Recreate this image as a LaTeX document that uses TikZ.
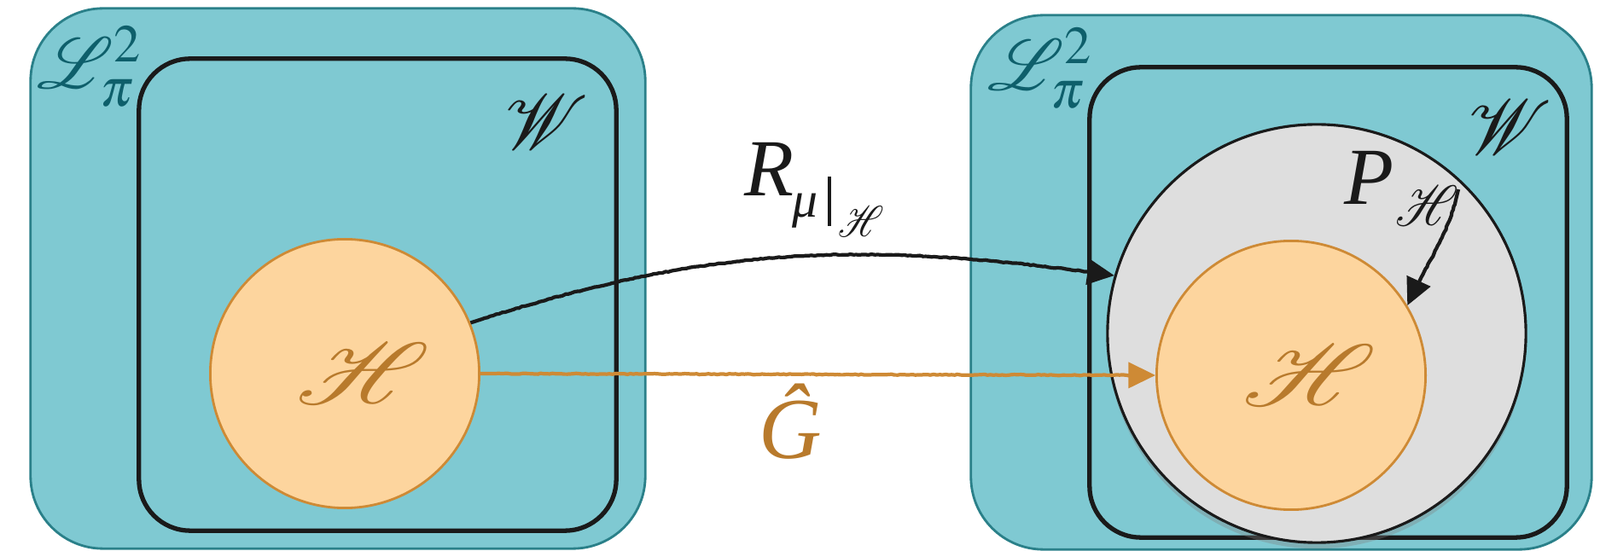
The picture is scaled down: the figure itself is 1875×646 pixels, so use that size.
\documentclass[tikz,border=0pt]{standalone}
\usepackage{mathptmx}
\usepackage{mathrsfs}
\usepackage{fontspec}
\newfontfamily\tms{Liberation Serif}
\usetikzlibrary{arrows.meta,shadows,decorations.pathmorphing}
\definecolor{tealfill}{HTML}{7FC9D2}
\definecolor{tealline}{HTML}{2A8089}
\definecolor{tealtext}{HTML}{0E5F6B}
\definecolor{orfill}{HTML}{FDD59E}
\definecolor{orline}{HTML}{CE8A35}
\definecolor{ortext}{HTML}{B87A2C}
\definecolor{grayfill}{HTML}{DEDEDE}
\definecolor{inkblack}{HTML}{1A1A1A}
\tikzset{
  outerbox/.style={draw=tealline, line width=0.8pt, fill=tealfill, rounded corners=0.85cm, inner sep=0pt},
  wbox/.style={draw=inkblack, line width=1.5pt, rounded corners=0.6cm, inner sep=0pt},
  hcircle/.style={circle, draw=orline, line width=0.8pt, fill=orfill, minimum size=3.15cm, inner sep=0pt, text=ortext},
  pcircle/.style={circle, draw=inkblack, line width=0.9pt, fill=grayfill, minimum size=4.9cm, inner sep=0pt,
    drop shadow={opacity=0.35, shadow xshift=0pt, shadow yshift=-2pt}},
  lbl/.style={inner sep=0pt},
  sketchy/.style={decorate, decoration={random steps, segment length=1pt, amplitude=0.15pt, pre length=4pt, post length=4pt}},
  blackarrow/.style={draw=inkblack, line width=1.2pt, sketchy, -{Triangle[length=9pt,width=8.5pt]}},
  orarrow/.style={draw=orline, line width=1.2pt, sketchy, -{Triangle[length=9pt,width=8.5pt]}},
}
\newcommand{\bigH}{\makebox[0pt][c]{\hspace*{12pt}\scalebox{3.5}[2.9]{$\mathscr{H}$}}}
\begin{document}
\begin{tikzpicture}[x=0.01cm,y=-0.01cm]
\useasboundingbox (0,0) rectangle (1875,646);
% left panel
\node[outerbox, minimum width=7.2cm, minimum height=6.33cm] (L1) at (396,326.5) {};
\node[wbox, minimum width=5.59cm, minimum height=5.53cm] (W1) at (442.5,345.5) {};
\node[hcircle] (H1) at (404,438) {\bigH};
\node[lbl, text=tealtext] (LL1) at (106,78) {\scalebox{2.4}{$\mathscr{L}^2_\pi$}};
\node[lbl, text=inkblack] (WL1) at (641,144) {\scalebox{2.6}{$\mathscr{W}$}};
% right panel
\node[outerbox, minimum width=7.27cm, minimum height=6.26cm] (L2) at (1501.5,331) {};
\node[wbox, minimum width=5.59cm, minimum height=5.51cm] (W2) at (1556.5,354.5) {};
\node[pcircle] (PC) at (1543,391) {};
\node[hcircle] (H2) at (1513,440) {\bigH};
\node[lbl, text=tealtext] (LL2) at (1220,80) {\scalebox{2.4}{$\mathscr{L}^2_\pi$}};
\node[lbl, text=inkblack] (WL2) at (1770,150) {\scalebox{2.6}{$\mathscr{W}$}};
% labels
\node[lbl, text=inkblack, anchor=base west] (RL) at (872,230)
  {\tms\itshape\fontsize{27}{30}\selectfont R\kern-0.5pt\raisebox{-7pt}{\fontsize{17}{20}\selectfont μ}\kern3pt\rule[-10pt]{1.2pt}{16.5pt}\kern2.5pt\raisebox{-13.5pt}{\scalebox{1.2}[1.45]{\normalsize$\mathscr{H}$}}};
\node[lbl, text=inkblack, anchor=base west] (PL) at (1575,240)
  {\tms\itshape\fontsize{27}{30}\selectfont P\kern0.5pt\raisebox{-7pt}{\scalebox{1.65}[1.9]{\normalsize$\mathscr{H}$}}};
\node[lbl, text=ortext, anchor=base] (GL) at (926,538) {\tms\itshape\fontsize{29}{32}\selectfont Ĝ};
\coordinate (PS) at (1709,222);
% connectors
\draw[blackarrow] (H1.22) to[out=18,in=172] (PC.164);
\draw[orarrow] (H1.east) -- (H2.west);
\draw[blackarrow] (PS) to[out=-102,in=66] (H2.31);
\end{tikzpicture}
\end{document}
